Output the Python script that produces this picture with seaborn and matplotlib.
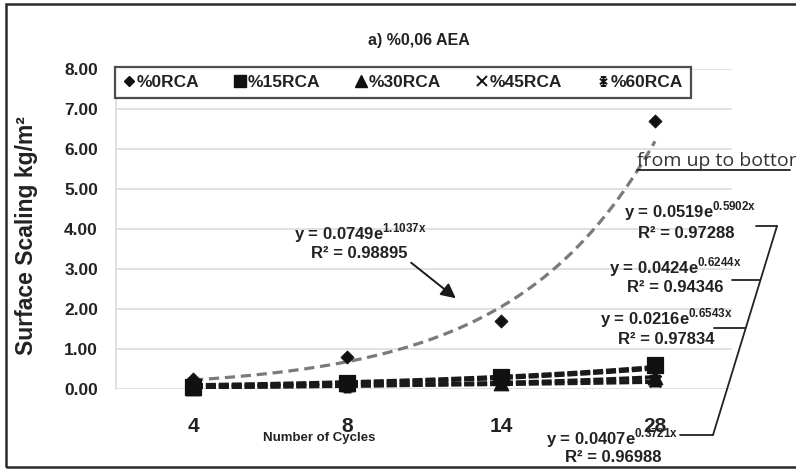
import numpy as np
import pandas as pd
import matplotlib
matplotlib.use("Agg")
import matplotlib.pyplot as plt
from matplotlib.path import Path
from matplotlib.patches import Rectangle, FancyArrowPatch
from matplotlib.lines import Line2D
import seaborn as sns

# ---- data -------------------------------------------------------------
cycles = ["4", "8", "14", "28"]
series = ["%0RCA", "%15RCA", "%30RCA", "%45RCA", "%60RCA"]
rca0 = [0.25, 0.80, 1.70, 6.70]
rca15 = [0.05, 0.15, 0.30, 0.60]
rca30 = [0.03, 0.12, 0.15, 0.30]
rca45 = [0.05, 0.10, 0.25, 0.20]
rca60 = [0.05, 0.10, 0.20, 0.25]

# exponential trendlines y = a * exp(b * x), x = 1..n
fit_a = [0.0749, 0.0519, 0.0424, 0.0216, 0.0407]
fit_b = [1.1037, 0.5902, 0.6244, 0.6543, 0.3721]
fit_r2 = ["0.98895", "0.97288", "0.94346", "0.97834", "0.96988"]
y_ticks = [0, 1, 2, 3, 4, 5, 6, 7, 8]

W, H = 796, 470
sns.set_theme(style="white")
plt.rcParams["font.family"] = ["Liberation Sans", "DejaVu Sans"]
plt.rcParams["mathtext.fontset"] = "custom"
plt.rcParams["mathtext.rm"] = "Liberation Sans"
plt.rcParams["mathtext.bf"] = "Liberation Sans:bold"

fig = plt.figure(figsize=(W / 100, H / 100), dpi=100)


def fx(x):
    return x / W


def fy(y):
    return 1 - y / H


ax = fig.add_axes([fx(116), fy(389), fx(732) - fx(116), fy(69) - fy(389)])

values = [rca0, rca15, rca30, rca45, rca60]
df = pd.DataFrame({
    "pos": np.tile(np.arange(len(cycles)), len(series)),
    "value": np.concatenate(values),
    "series": np.repeat(series, len(cycles)),
})

# star marker with bars (asterisk capped top and bottom)
star_path = Path(
    [(0, -1), (0, 1), (-0.8, -0.6), (0.8, 0.6), (-0.8, 0.6), (0.8, -0.6),
     (-0.6, 1), (0.6, 1), (-0.6, -1), (0.6, -1)],
    [Path.MOVETO, Path.LINETO] * 5,
)
marker_spec = {
    "%0RCA": dict(marker="D", s=45),
    "%15RCA": dict(marker="s", s=120),
    "%30RCA": dict(marker="^", s=110),
    "%45RCA": dict(marker="x", s=70, linewidth=2),
    "%60RCA": dict(marker=star_path, s=90, linewidth=2),
}

# trendlines
xs = np.linspace(1, len(cycles), 200)
for i, name in enumerate(series):
    ys = fit_a[i] * np.exp(fit_b[i] * xs)
    if i == 0:
        sns.lineplot(x=xs - 1, y=ys, ax=ax, color="#7a7a7a", linewidth=2.3,
                     linestyle=(0, (3.2, 1.8)), zorder=3)
    else:
        sns.lineplot(x=xs - 1, y=ys, ax=ax, color="#1a1a1a", linewidth=3.0,
                     linestyle=(0, (2.4, 0.7)), zorder=3)

for name in series:
    sub = df[df["series"] == name]
    spec = marker_spec[name]
    kw = dict(ax=ax, data=sub, x="pos", y="value", color="#111111",
              edgecolor="#111111", legend=False, zorder=4, clip_on=False)
    sns.scatterplot(**kw, **spec)

ax.set_xlim(-0.5, len(cycles) - 0.5)
ax.set_ylim(0, 8)
ax.set_yticks(y_ticks)
ax.set_yticklabels([f"{v:.2f}" for v in y_ticks], fontsize=12.5,
                   fontweight="bold", color="#222222")
ax.set_xticks(range(len(cycles)))
ax.set_xticklabels(cycles, fontsize=15, fontweight="bold", color="#222222")
ax.tick_params(axis="y", length=0, pad=13)
ax.tick_params(axis="x", length=0, pad=20)
ax.set_xlabel("")
ax.set_ylabel("")
ax.grid(axis="y", color="#d9d9d9", linewidth=1.1)
ax.grid(axis="x", visible=False)
for side in ["top", "right", "bottom"]:
    ax.spines[side].set_visible(False)
ax.spines["left"].set_color("#d9d9d9")
ax.spines["left"].set_linewidth(1.1)

# legend
handles = []
for name in series:
    spec = marker_spec[name]
    ms = {"%0RCA": 5.5, "%15RCA": 8, "%30RCA": 8, "%45RCA": 6.5, "%60RCA": 6.5}[name]
    handles.append(Line2D([], [], linestyle="none", marker=spec["marker"],
                          markersize=ms, color="#111111",
                          markeredgewidth=1.4 if name in ("%45RCA", "%60RCA") else 1))
leg = fig.legend(handles, series, ncol=5, loc="upper left",
                 bbox_to_anchor=(fx(115), fy(67)), frameon=True, fancybox=False,
                 prop=dict(weight="bold", size=12.5), handlelength=0.7,
                 handletextpad=0.1, columnspacing=2.0, borderpad=0.45,
                 borderaxespad=0)
leg.get_frame().set_edgecolor("#222222")
leg.get_frame().set_linewidth(1.6)
for t in leg.get_texts():
    t.set_color("#222222")

# titles and axis labels
fig.text(fx(419), fy(41), "a) %0,06 AEA", ha="center", va="center",
         fontsize=11.5, fontweight="bold", color="#222222")
fig.text(fx(263), fy(438), "Number of Cycles", ha="left", va="center",
         fontsize=9.5, fontweight="bold", color="#222222")
fig.text(fx(26), fy(236), "Surface Scaling kg/m²", ha="center", va="center",
         rotation=90, fontsize=16.5, fontweight="bold", color="#222222")

# equation labels
eq_pos = [(360, 233, 359, 253), (690, 211, 686, 233), (675, 267, 675, 288),
          (666, 318, 666, 340), (612, 438, 613, 458)]
for i, (ex, ey, rx, ry) in enumerate(eq_pos):
    fig.text(fx(ex), fy(ey),
             rf"y = {fit_a[i]:.4f}e$^{{\mathbf{{{fit_b[i]:.4f}x}}}}$",
             ha="center", va="center", fontsize=12, fontweight="bold",
             color="#222222")
    fig.text(fx(rx), fy(ry), f"R² = {fit_r2[i]}", ha="center", va="center",
             fontsize=12, fontweight="bold", color="#222222")

# arrow to the %0RCA trendline
fig.add_artist(FancyArrowPatch(
    (fx(409), fy(261)), (fx(458), fy(300)), transform=fig.transFigure,
    arrowstyle="-|>", mutation_scale=22, color="#1a1a1a", linewidth=1.4))

# bracket joining the four lower equations
line_kw = dict(transform=fig.transFigure, color="#222222", linewidth=1.3)
fig.add_artist(Line2D([fx(756), fx(777)], [fy(226), fy(226)], **line_kw))
fig.add_artist(Line2D([fx(732), fx(760)], [fy(280), fy(280)], **line_kw))
fig.add_artist(Line2D([fx(714), fx(745)], [fy(328), fy(328)], **line_kw))
fig.add_artist(Line2D([fx(680), fx(713)], [fy(435), fy(435)], **line_kw))
fig.add_artist(Line2D([fx(777), fx(713)], [fy(226), fy(435)], **line_kw))

fig.text(fx(637), fy(161), "from up to bottom", ha="left", va="center",
         fontsize=14, family="Open Sans", color="#333333")
fig.add_artist(Line2D([fx(637), fx(790)], [fy(170), fy(170)], **line_kw))

# outer frame
fig.add_artist(Rectangle((fx(6), fy(467)), fx(800) - fx(6), fy(4) - fy(467),
                         transform=fig.transFigure, fill=False,
                         edgecolor="#2a2a2a", linewidth=1.8))

fig.savefig("out.png", dpi=100)
